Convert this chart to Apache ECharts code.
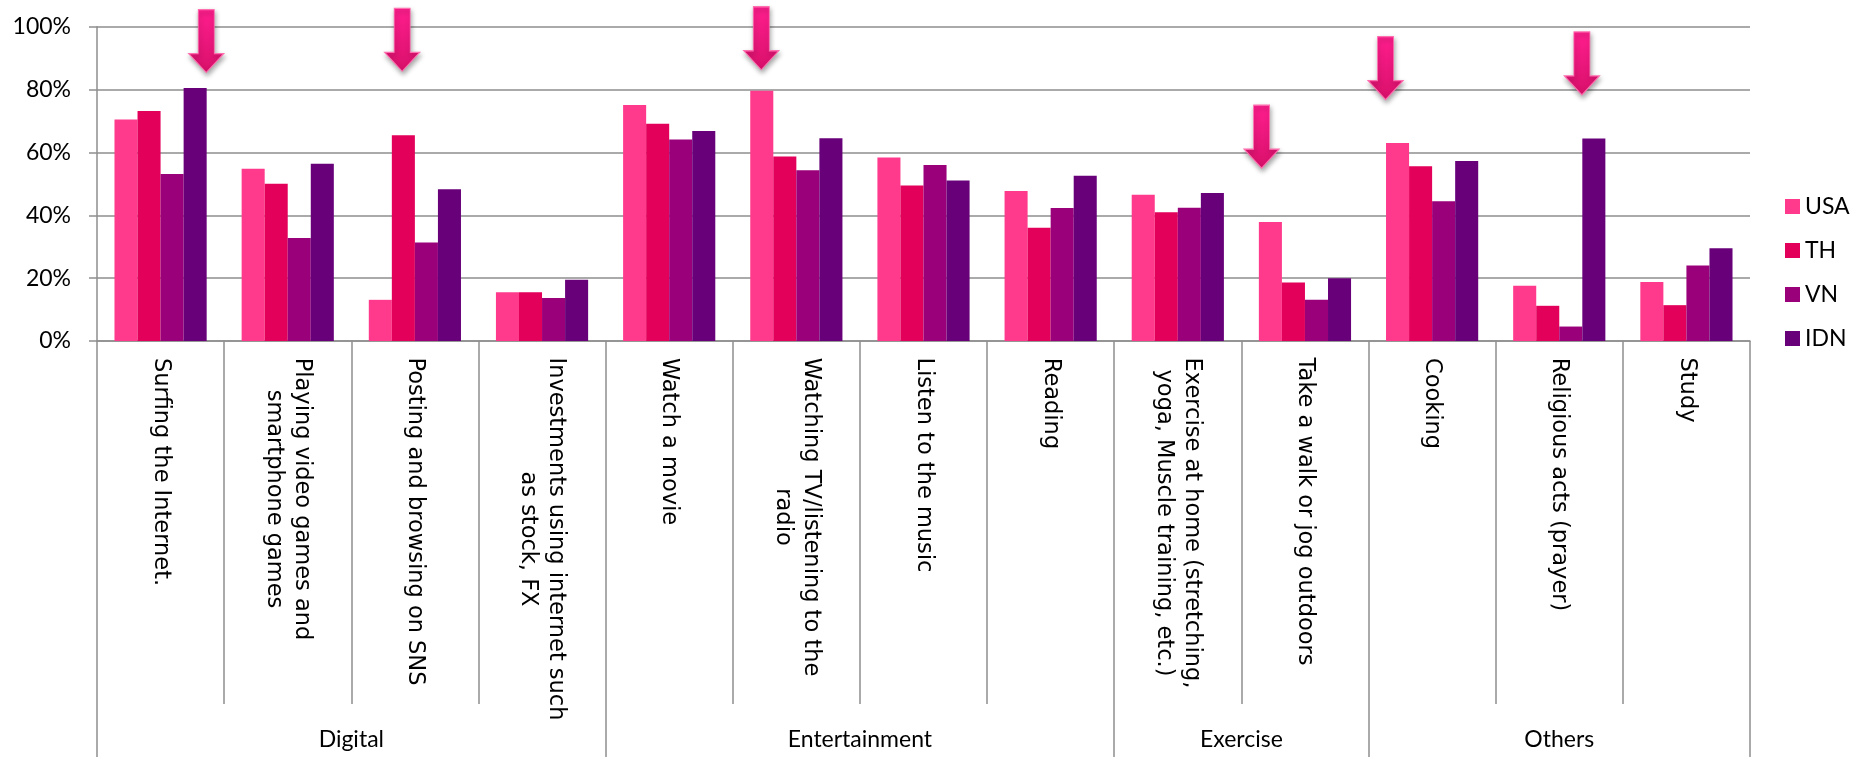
<!DOCTYPE html>
<html>
<head>
<meta charset="utf-8">
<style>
  html, body { margin: 0; padding: 0; background: #fff; }
  #chart { width: 1855px; height: 757px; }
</style>
<script src="https://cdn.jsdelivr.net/npm/echarts@6/dist/echarts.min.js"></script>
</head>
<body>
<div id="chart"></div>
<script>
// Activities (first level of the x axis)
const categories = [
  'Surfing the Internet.',
  'Playing video games and\nsmartphone games',
  'Posting and browsing on SNS',
  'Investments using internet such\nas stock, FX',
  'Watch a movie',
  'Watching TV/listening to the\nradio',
  'Listen to the music',
  'Reading',
  'Exercise at home (stretching,\nyoga, Muscle training, etc.)',
  'Take a walk or jog outdoors',
  'Cooking',
  'Religious acts (prayer)',
  'Study'
];

// Second level of the x axis: group names and how many activities each spans
const groups = ['Digital', 'Entertainment', 'Exercise', 'Others'];
const groupSizes = [4, 4, 2, 3];

// Share of respondents (%) per country
const usa = [70.5, 54.8, 13.1, 15.5, 75.1, 79.6, 58.4, 47.7, 46.5, 37.9, 63.0, 17.6, 18.8];
const th  = [73.2, 50.0, 65.5, 15.5, 69.1, 58.7, 49.5, 36.0, 41.0, 18.6, 55.6, 11.2, 11.4];
const vn  = [53.1, 32.8, 31.3, 13.7, 64.1, 54.3, 56.0, 42.3, 42.4, 13.1, 44.5,  4.6, 24.0];
const idn = [80.5, 56.4, 48.3, 19.5, 66.8, 64.5, 51.1, 52.6, 47.1, 20.0, 57.3, 64.4, 29.5];

const countries = ['USA', 'TH', 'VN', 'IDN'];
const seriesValues = [usa, th, vn, idn];
const countryColors = ['#FF3A8C', '#E3005A', '#99007A', '#68007A'];

// Highlight arrows: [position along the activity axis (in activities), value at the arrow tip]
const arrowMarks = [
  [0.859, 85.4],
  [2.400, 85.8],
  [5.224, 86.3],
  [9.159, 55.0],
  [10.134, 76.8],
  [11.678, 78.3]
];

// Y axis ticks
const yTicks = { min: 0, max: 100, step: 20 };

// ---- derived helpers ----
const groupEdges = [0];
const groupCenters = [];
groupSizes.forEach((n, i) => {
  const start = groupEdges[i];
  groupEdges.push(start + n);
  groupCenters.push(start + n / 2);
});

const LABEL_FONT = '"DejaVu Sans", Verdana, sans-serif';
const LABEL_SIZE = 22.5;
const LABEL_LINE = 28;
const measureCtx = document.createElement('canvas').getContext('2d');
measureCtx.font = LABEL_SIZE + 'px ' + LABEL_FONT;

// One rich style per activity label so the wrapped lines are centred on each other
const labelRich = {};
categories.forEach((c, i) => {
  const w = Math.max(...c.split('\n').map(l => measureCtx.measureText(l).width));
  labelRich['c' + i] = {
    width: Math.ceil(w) + 1,
    align: 'center',
    fontFamily: LABEL_FONT,
    fontSize: LABEL_SIZE,
    lineHeight: LABEL_LINE,
    color: '#000'
  };
});

const gridColor = '#8E8E8E';

const arrowPath = 'path://M9.5,0 L25.5,0 L25.5,44 L35,44 L17.5,63 L0,44 L9.5,44 Z';

const chart = echarts.init(document.getElementById('chart'), null, { renderer: 'canvas' });

const option = {
  animation: false,
  backgroundColor: '#fff',
  grid: {
    left: 97,
    right: 105,
    top: 26.7,
    bottom: 416,
    containLabel: false,
    outerBoundsMode: 'none'
  },
  legend: {
    data: countries,
    orient: 'vertical',
    left: 1780,
    top: 190,
    itemWidth: 15,
    itemHeight: 15,
    itemGap: 21,
    icon: 'rect',
    textStyle: { fontFamily: 'Lato', fontSize: 23, color: '#000' }
  },
  xAxis: [
    {
      type: 'category',
      data: categories,
      position: 'bottom',
      axisLine: { show: true, lineStyle: { color: gridColor, width: 1.5 } },
      axisTick: {
        show: true,
        interval: 0,
        length: 363,
        lineStyle: { color: gridColor, width: 1.5 }
      },
      axisLabel: {
        interval: 0,
        rotate: -90,
        margin: 16,
        hideOverlap: false,
        fontFamily: LABEL_FONT,
        fontSize: LABEL_SIZE,
        lineHeight: LABEL_LINE,
        color: '#000',
        formatter: (value, index) =>
          value.split('\n').map(l => '{c' + index + '|' + l + '}').join('\n'),
        rich: labelRich
      },
      splitLine: { show: false }
    },
    {
      type: 'value',
      min: 0,
      max: categories.length,
      position: 'bottom',
      offset: 363,
      axisLine: { show: false },
      axisTick: {
        show: true,
        customValues: groupEdges,
        length: 54,
        lineStyle: { color: gridColor, width: 1.5 }
      },
      axisLabel: {
        customValues: groupCenters,
        margin: 24,
        fontFamily: 'Lato',
        fontSize: 23,
        color: '#000',
        formatter: (v) => groups[groupCenters.indexOf(v)] || ''
      },
      splitLine: { show: false }
    }
  ],
  yAxis: {
    type: 'value',
    min: yTicks.min,
    max: yTicks.max,
    interval: yTicks.step,
    axisLine: { show: true, lineStyle: { color: gridColor, width: 1.5 } },
    axisTick: { show: true, length: 8, lineStyle: { color: gridColor, width: 1.5 } },
    axisLabel: {
      formatter: '{value}%',
      margin: 26,
      fontFamily: 'Lato',
      fontSize: 23,
      color: '#000'
    },
    splitLine: { show: true, lineStyle: { color: gridColor, width: 1.5 } }
  },
  series: [
    ...countries.map((name, i) => ({
      name: name,
      type: 'bar',
      xAxisIndex: 0,
      yAxisIndex: 0,
      data: seriesValues[i],
      barGap: '0%',
      barCategoryGap: '27.5%',
      itemStyle: { color: countryColors[i] }
    })),
    {
      name: 'arrows',
      type: 'scatter',
      xAxisIndex: 1,
      yAxisIndex: 0,
      data: arrowMarks,
      symbol: arrowPath,
      symbolSize: [35, 63],
      symbolOffset: [0, '-50%'],
      silent: true,
      z: 10,
      itemStyle: {
        opacity: 1,
        color: {
          type: 'linear', x: 0, y: 0, x2: 0, y2: 1,
          colorStops: [
            { offset: 0, color: '#FF1E8E' },
            { offset: 1, color: '#D8106A' }
          ]
        },
        borderColor: '#FF6FB0',
        borderWidth: 1,
        shadowBlur: 5,
        shadowColor: 'rgba(0,0,0,0.35)',
        shadowOffsetX: 1,
        shadowOffsetY: 3
      }
    }
  ]
};

chart.setOption(option);
</script>
</body>
</html>
